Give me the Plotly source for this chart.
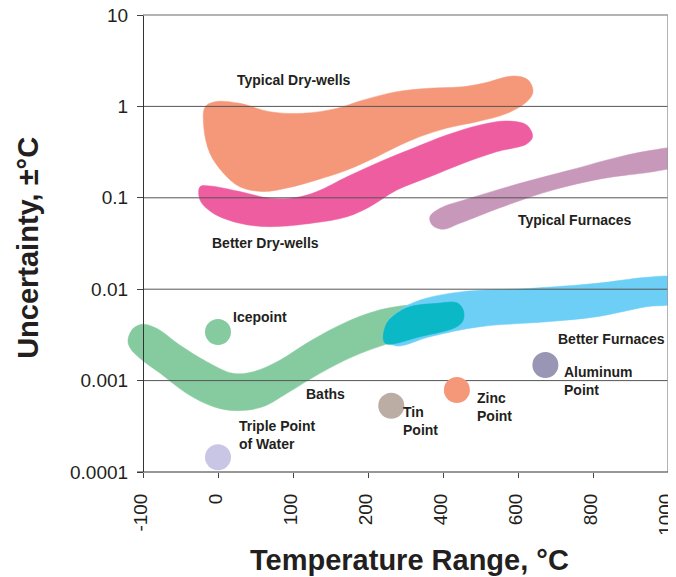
import math
import plotly.graph_objects as go

# ---------------- data ----------------
tick_temps = [-100, 0, 100, 200, 400, 600, 800, 1000]
tick_unc = [0.0001, 0.001, 0.01, 0.1, 1, 10]
tick_unc_text = ["0.0001", "0.001", "0.01", "0.1", "1", "10"]
grid_unc = [0.001, 0.01, 0.1, 1]

typical_drywell_T = [-17, -2, 29, 69, 113, 158, 193, 277, 365, 453, 507, 587, 627, 640, 624, 571,
                     491, 411, 339, 277, 224, 172, 132, 92, 60, 29, 7, -11, -19]
typical_drywell_U = [0.99, 1.13, 1.08, 0.875, 0.84, 0.95, 1.17, 1.45, 1.58, 1.64, 1.79, 2.15, 1.95, 1.45,
                     1.13, 0.84, 0.68, 0.58, 0.467, 0.362, 0.282, 0.201, 0.157, 0.128, 0.117, 0.132,
                     0.187, 0.309, 0.60]

better_drywell_T = [-24, -11, 29, 69, 105, 132, 172, 232, 320, 410, 499, 570, 623, 639, 623, 543, 453,
                    365, 277, 205, 172, 127, 69, 29, -7, -24]
better_drywell_U = [0.132, 0.135, 0.117, 0.099, 0.101, 0.117, 0.170, 0.248, 0.348, 0.486, 0.626, 0.692,
                    0.626, 0.467, 0.388, 0.319, 0.238, 0.170, 0.1216, 0.080, 0.062, 0.053, 0.0483,
                    0.0526, 0.0683, 0.0946]

typical_furnace_T = [365, 392, 472, 605, 739, 872, 960, 1019, 1059, 1021, 960, 827, 693, 560, 445, 400, 371]
typical_furnace_U = [0.062, 0.0767, 0.099, 0.144, 0.201, 0.282, 0.333, 0.348, 0.272, 0.219, 0.193,
                     0.163, 0.1216, 0.080, 0.0526, 0.0452, 0.0504]

better_furnace_T = [250, 285, 339, 453, 632, 810, 943, 1013, 1059, 1013, 943, 810, 677, 499, 365, 277, 250]
better_furnace_U = [0.00424, 0.00592, 0.00762, 0.0094, 0.0102, 0.0116, 0.0135, 0.0137, 0.0111, 0.0070,
                    0.00644, 0.0050, 0.0044, 0.00389, 0.00302, 0.00239, 0.00278]

baths_T = [-120, -113, -100, -82, -51, -15, 20, 47, 83, 118, 158, 194, 250, 312, 383, 437, 454, 454,
           437, 339, 250, 180, 136, 92, 60, 25, -6, -42, -77, -104, -117]
baths_U = [0.00278, 0.00373, 0.00413, 0.00373, 0.00245, 0.00161, 0.00120, 0.00125, 0.00168, 0.00256,
           0.00389, 0.00522, 0.00618, 0.00671, 0.0070, 0.0070, 0.00592, 0.0046, 0.00389, 0.00315,
           0.00251, 0.00183, 0.00120, 0.000726, 0.000518, 0.000469, 0.000518, 0.000726, 0.00120,
           0.00175, 0.00226]

overlap_T = [241, 250, 277, 312, 383, 437, 454, 454, 437, 339, 250]
overlap_U = [0.00278, 0.00424, 0.00545, 0.00644, 0.0070, 0.0071, 0.00592, 0.0046, 0.00389, 0.00302, 0.00251]

fixed_points = ["Icepoint", "Triple Point of Water", "Tin Point", "Zinc Point", "Aluminum Point"]
fixed_T = [0, 0, 262, 437, 673]
fixed_U = [0.0034, 0.000145, 0.00053, 0.00079, 0.00148]
fixed_colors = ["#86CB9F", "#C8C6E4", "#BCADA4", "#F5987A", "#9896B4"]


# piecewise temperature scale: 100 C per step up to 200, then 200 C per step
def tx(t):
    return t / 100.0 if t <= 200 else 2 + (t - 200) / 200.0


def blob(T, U, color):
    xs = [tx(t) for t in T] + [tx(T[0])]
    ys = list(U) + [U[0]]
    return go.Scatter(x=xs, y=ys, mode="lines", fill="toself", fillcolor=color,
                      line=dict(color=color, width=0.5, shape="spline", smoothing=1.0),
                      hoverinfo="skip", showlegend=False)


fig = go.Figure()
fig.add_trace(blob(typical_drywell_T, typical_drywell_U, "#F5987A"))
fig.add_trace(blob(better_drywell_T, better_drywell_U, "#EF5DA1"))
fig.add_trace(blob(typical_furnace_T, typical_furnace_U, "#C898BB"))
fig.add_trace(blob(baths_T, baths_U, "#86CB9F"))
fig.add_trace(blob(better_furnace_T, better_furnace_U, "#6DCFF6"))
fig.add_trace(blob(overlap_T, overlap_U, "#0BB8C6"))

# gridlines on top of the regions
for g in grid_unc:
    fig.add_trace(go.Scatter(x=[tx(-100), tx(1000)], y=[g, g], mode="lines",
                             line=dict(color="#555555", width=1), hoverinfo="skip",
                             showlegend=False))

fig.add_trace(go.Scatter(x=[tx(t) for t in fixed_T], y=fixed_U, mode="markers",
                         marker=dict(size=26, color=fixed_colors, line=dict(width=0)),
                         text=fixed_points, hoverinfo="text", showlegend=False))

font_family = "Liberation Sans, Arial, sans-serif"
txt = "#231F20"


def label(text, T, U, xanchor="center"):
    return dict(x=tx(T), y=math.log10(U), xref="x", yref="y", text=f"<b>{text}</b>",
                showarrow=False, xanchor=xanchor, yanchor="middle", align="left",
                font=dict(family=font_family, size=14, color=txt))


annotations = [
    label("Typical Dry-wells", 101, 1.95),
    label("Better Dry-wells", 63, 0.0323),
    label("Typical Furnaces", 752, 0.0571),
    label("Icepoint", 56, 0.00497),
    label("Baths", 143, 0.000713),
    label("Better Furnaces", 848, 0.00285),
    label("Aluminum<br>Point", 717, 0.00099, "left"),
    label("Zinc<br>Point", 485, 0.000514, "left"),
    label("Tin<br>Point", 288, 0.000366, "left"),
    label("Triple Point<br>of Water", 25, 0.000257, "left"),
    dict(x=0.53, y=-0.193, xref="paper", yref="paper", text="<b>Temperature Range, °C</b>",
         showarrow=False, xanchor="center", yanchor="middle",
         font=dict(family=font_family, size=29, color=txt)),
    dict(x=-0.164, y=0.49, xref="paper", yref="paper", text="<b>Uncertainty, ±°C</b>",
         showarrow=False, xanchor="center", yanchor="middle", textangle=-90,
         font=dict(family=font_family, size=29, color=txt)),
]

# the page body adds an 8px offset, margins compensate for it
FIG_W, FIG_H = 676, 577
L_MARGIN, R_MARGIN, T_MARGIN, B_MARGIN = 110, 16, 7, 113
plot_w = FIG_W - L_MARGIN - R_MARGIN
units_px = 75.0
x_right = tx(1000)
x_left = x_right - plot_w / units_px
y_axis_pos = (tx(-100) - x_left) / (x_right - x_left)

fig.update_layout(
    width=FIG_W, height=FIG_H,
    margin=dict(l=L_MARGIN, r=R_MARGIN, t=T_MARGIN, b=B_MARGIN, autoexpand=False),
    paper_bgcolor="white", plot_bgcolor="white",
    font=dict(family=font_family, color=txt),
    showlegend=False,
    annotations=annotations,
    shapes=[
        dict(type="line", xref="x", yref="paper", x0=tx(-100), x1=tx(1000), y0=1, y1=1,
             line=dict(color="#9A9A9A", width=1.5)),
        dict(type="line", xref="x", yref="paper", x0=tx(1000), x1=tx(1000), y0=0, y1=1,
             line=dict(color="#9A9A9A", width=1.5)),
        dict(type="line", xref="x", yref="paper", x0=tx(-100) - 0.08, x1=tx(1000), y0=0, y1=0,
             line=dict(color="#333333", width=1.2)),
    ],
    xaxis=dict(
        range=[x_left, x_right], showgrid=False, zeroline=False, showline=False,
        automargin=False,
        tickvals=[tx(t) for t in tick_temps], ticktext=[str(t) for t in tick_temps],
        ticks="outside", ticklen=5, tickcolor="#444444", tickwidth=1,
        tickangle=-90, ticklabelstandoff=8, ticklabelshift=-2, ticklabeloverflow="allow",
        tickfont=dict(family=font_family, size=19, color=txt),
    ),
    yaxis=dict(
        type="log", range=[-4, 1], showgrid=False, zeroline=False,
        automargin=False,
        anchor="free", position=y_axis_pos,
        showline=True, linecolor="#333333", linewidth=1.2,
        tickvals=tick_unc, ticktext=tick_unc_text,
        ticks="outside", ticklen=6, tickcolor="#444444", tickwidth=1,
        ticklabelstandoff=5, ticklabeloverflow="allow",
        tickfont=dict(family=font_family, size=19, color=txt),
    ),
)

fig.write_html("out.html")
